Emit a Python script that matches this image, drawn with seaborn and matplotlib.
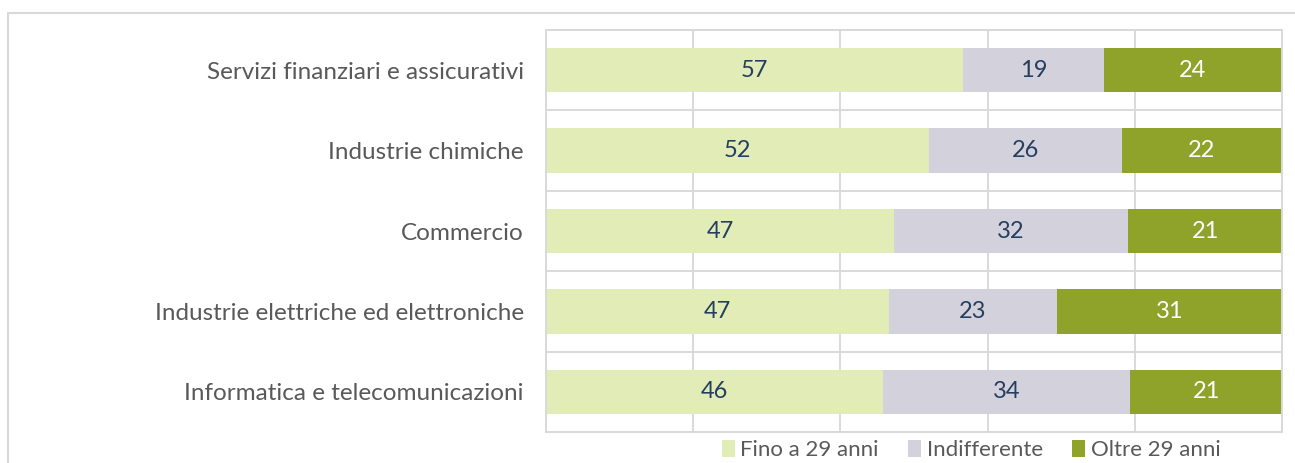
import numpy as np
import pandas as pd
import matplotlib
matplotlib.use("Agg")
import matplotlib.pyplot as plt
import seaborn as sns
from matplotlib.patches import Patch, Rectangle

# ---------------------------
# Data (percentages)
# ---------------------------
categories = [
    "Servizi finanziari e assicurativi",
    "Industrie chimiche",
    "Commercio",
    "Industrie elettriche ed elettroniche",
    "Informatica e telecomunicazioni",
]
fino_29 = [56.7, 52.0, 47.3, 46.6, 45.8]
indifferente = [19.1, 26.2, 31.8, 22.8, 33.6]
oltre_29 = [24.2, 21.8, 20.9, 30.6, 20.6]
series_names = ["Fino a 29 anni", "Indifferente", "Oltre 29 anni"]

colors = ["#E2ECB7", "#D3D1DC", "#8FA32B"]
text_colors = ["#243F60", "#243F60", "white"]
grid_col = "#D9D9D9"

df = pd.DataFrame({"cat": categories, "a": fino_29, "b": indifferente, "c": oltre_29})
df["cum_a"] = df["a"]
df["cum_b"] = df["a"] + df["b"]
df["cum_c"] = df["a"] + df["b"] + df["c"]

# ---------------------------
# Plot
# ---------------------------
sns.set_theme(style="white")
plt.rcParams["font.family"] = ["Lato", "DejaVu Sans"]

fig = plt.figure(figsize=(12.95, 4.63), dpi=100)
ax = fig.add_axes([546 / 1295, 1 - 432 / 463, (1282 - 546) / 1295, (432 - 30) / 463])

# stacked bars drawn as overlapping cumulative bars
for col, c in zip(["cum_c", "cum_b", "cum_a"], colors[::-1]):
    sns.barplot(data=df, x=col, y="cat", orient="h", color=c, saturation=1,
                width=0.55, linewidth=0, ax=ax)

ax.set_xlim(0, 100)
ax.set_ylim(4.5, -0.5)
ax.set(xlabel="", ylabel="")
ax.set_xticks([0, 20, 40, 60, 80, 100])
ax.set_yticks(np.arange(-0.5, 5, 1), minor=True)
ax.grid(axis="x", which="major", color=grid_col, lw=1.4)
ax.grid(axis="y", which="minor", color=grid_col, lw=1.4)
ax.grid(axis="y", which="major", visible=False)
ax.set_axisbelow(True)
ax.tick_params(axis="x", labelbottom=False, length=0)
ax.tick_params(axis="y", which="both", length=0, pad=16, labelsize=17.5, labelcolor="#595959")
for s in ax.spines.values():
    s.set_color(grid_col)
    s.set_linewidth(1.4)

# value labels
for i in range(len(categories)):
    left = 0
    for vals, tc in zip([fino_29, indifferente, oltre_29], text_colors):
        v = vals[i]
        ax.text(left + v / 2, i, f"{v:.0f}", ha="center", va="center",
                color=tc, fontsize=17)
        left += v

# legend
handles = [Patch(facecolor=c, edgecolor="none") for c in colors]
fig.legend(handles, series_names, loc="center", bbox_to_anchor=(971 / 1295, 1 - 450 / 463),
           ncol=3, frameon=False, fontsize=16, handlelength=0.6, handleheight=0.85,
           handletextpad=0.25, columnspacing=1.3, labelcolor="#595959")

# outer chart border
fig.add_artist(Rectangle((8 / 1295, -0.2), 1.2, 1 - 13 / 463 + 0.2, transform=fig.transFigure,
                         fill=False, edgecolor=grid_col, lw=1.5))

fig.savefig("out.png", dpi=100)
